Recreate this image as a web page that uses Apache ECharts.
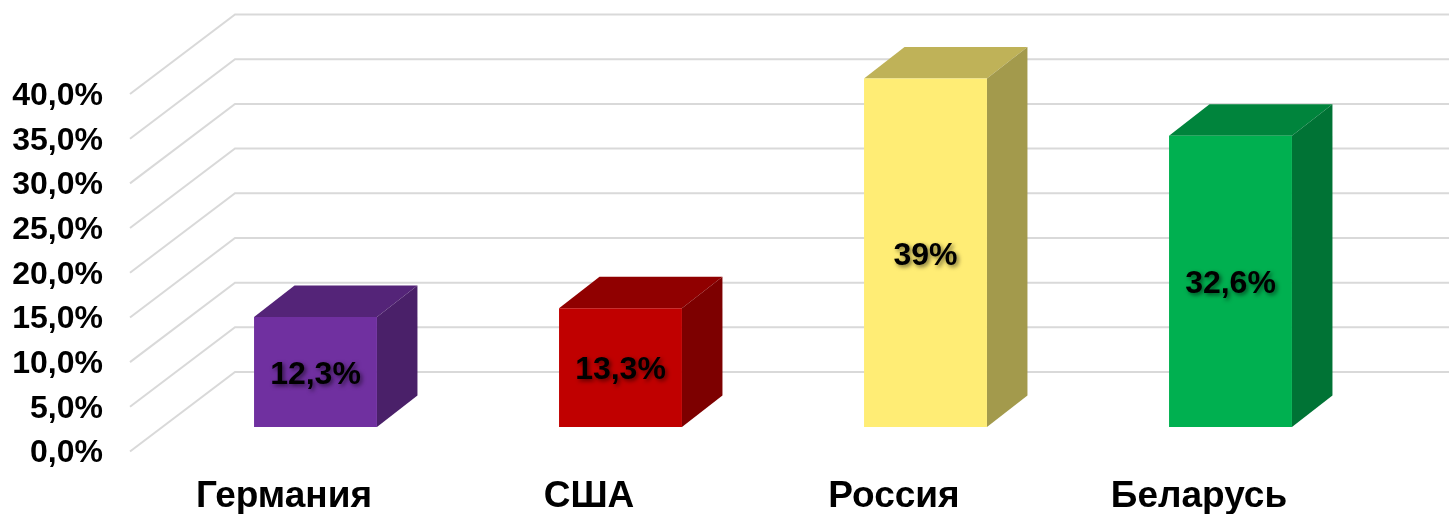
<!DOCTYPE html>
<html>
<head>
<meta charset="utf-8">
<style>
  html, body { margin: 0; padding: 0; background: #fff; }
  #chart { width: 1449px; height: 514px; }
</style>
<script src="https://cdn.jsdelivr.net/npm/echarts@6/dist/echarts.min.js"></script>
</head>
<body>
<div id="chart"></div>
<script>
var categories = ['Германия', 'США', 'Россия', 'Беларусь'];
var values = [12.3, 13.3, 39, 32.6];
var valueLabels = ['12,3%', '13,3%', '39%', '32,6%'];
var yTicks = [0, 5, 10, 15, 20, 25, 30, 35, 40];
var frontColors = ['#7030a0', '#c00000', '#ffed75', '#00b050'];
var topColors = ['#542478', '#900000', '#bfb258', '#00843c'];
var sideColors = ['#4a2069', '#7d0000', '#a39a4c', '#007335'];

var fontName = '"Liberation Sans", Arial, sans-serif';

// 3D walls: how far the back wall sits from the front edge of the floor
var wallDx = 105, wallDy = -79.5;
// bar box inside the floor depth
var barShiftX = 33, barShiftY = -24.5, depthX = 40.5, depthY = -31.5, barRatio = 0.403;

function renderGridLine(params, api) {
  var p = api.coord([0, api.value(1)]);
  var left = params.coordSys.x;
  return {
    type: 'polyline',
    shape: { points: [[left, p[1]], [left + wallDx, p[1] + wallDy], [1449, p[1] + wallDy]] },
    style: { fill: null, stroke: '#d9d9d9', lineWidth: 2 },
    silent: true
  };
}

function renderBar(params, api) {
  var i = api.value(0);
  var top = api.coord([i, api.value(1)]);
  var base = api.coord([i, 0]);
  var w = api.size([1, 0])[0] * barRatio;
  var x0 = top[0] - w / 2 + barShiftX, x1 = x0 + w;
  var y0 = top[1] + barShiftY, y1 = base[1] + barShiftY;
  return {
    type: 'group',
    children: [{
      type: 'polygon',
      shape: { points: [[x0, y0], [x0 + depthX, y0 + depthY], [x1 + depthX, y0 + depthY], [x1, y0]] },
      style: { fill: topColors[i] }
    }, {
      type: 'polygon',
      shape: { points: [[x1, y0], [x1 + depthX, y0 + depthY], [x1 + depthX, y1 + depthY], [x1, y1]] },
      style: { fill: sideColors[i] }
    }, {
      type: 'rect',
      shape: { x: x0, y: y0, width: w, height: y1 - y0 },
      style: { fill: frontColors[i] }
    }, {
      type: 'text',
      style: {
        x: (x0 + x1) / 2,
        y: (y0 + y1) / 2 + 3,
        text: valueLabels[i],
        align: 'center',
        verticalAlign: 'middle',
        fill: '#000',
        font: 'bold 32px ' + fontName,
        textShadowColor: 'rgba(0,0,0,0.55)',
        textShadowBlur: 4,
        textShadowOffsetX: 2,
        textShadowOffsetY: 2
      }
    }]
  };
}

var chart = echarts.init(document.getElementById('chart'), null, { renderer: 'canvas' });
chart.setOption({
  animation: false,
  backgroundColor: '#fff',
  grid: { left: 130, right: 99, top: 94, bottom: 62.5, outerBoundsMode: 'none' },
  xAxis: {
    type: 'category',
    data: categories,
    axisLine: { show: false },
    axisTick: { show: false },
    axisLabel: {
      interval: 0,
      margin: 27,
      padding: [0, 0, 0, 3],
      color: '#000',
      fontFamily: fontName,
      fontWeight: 'bold',
      fontSize: 37
    }
  },
  yAxis: {
    type: 'value',
    min: 0,
    max: 40,
    interval: 5,
    axisLine: { show: false },
    axisTick: { show: false },
    splitLine: { show: false },
    axisLabel: {
      margin: 27,
      verticalAlign: 'top',
      lineHeight: 4,
      color: '#000',
      fontFamily: fontName,
      fontWeight: 'bold',
      fontSize: 32,
      formatter: function (v) { return v.toFixed(1).replace('.', ',') + '%'; }
    }
  },
  series: [{
    name: 'grid',
    type: 'custom',
    z: 1,
    silent: true,
    renderItem: renderGridLine,
    data: yTicks.map(function (v) { return [0, v]; })
  }, {
    name: 'bars',
    type: 'custom',
    z: 2,
    renderItem: renderBar,
    data: values.map(function (v, i) { return [i, v]; })
  }]
});
</script>
</body>
</html>
